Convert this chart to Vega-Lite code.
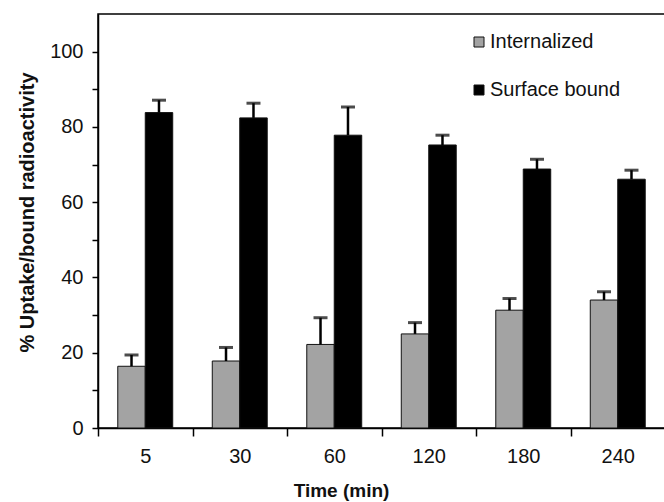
{
  "$schema": "https://vega.github.io/schema/vega-lite/v6.json",
  "autosize": "none",
  "width": 567,
  "height": 414,
  "padding": {"left": 98, "top": 14, "right": 0, "bottom": 74},
  "background": "white",
  "config": {
    "font": "Liberation Sans",
    "view": {"stroke": "#000", "strokeWidth": 1.5},
    "axis": {"grid": false, "domainColor": "#000", "domainWidth": 1.5, "tickColor": "#000", "tickWidth": 1.5, "labelColor": "#111", "titleColor": "#111", "labelFont": "Liberation Sans", "titleFont": "Liberation Sans"}
  },
  "data": {
    "values": [
      {"time": "5", "series": "Internalized", "value": 16.4, "upper": 19.4},
      {"time": "5", "series": "Surface bound", "value": 83.8, "upper": 87.1},
      {"time": "30", "series": "Internalized", "value": 17.8, "upper": 21.4},
      {"time": "30", "series": "Surface bound", "value": 82.4, "upper": 86.3},
      {"time": "60", "series": "Internalized", "value": 22.2, "upper": 29.3},
      {"time": "60", "series": "Surface bound", "value": 77.8, "upper": 85.3},
      {"time": "120", "series": "Internalized", "value": 25.0, "upper": 28.0},
      {"time": "120", "series": "Surface bound", "value": 75.2, "upper": 77.8},
      {"time": "180", "series": "Internalized", "value": 31.3, "upper": 34.4},
      {"time": "180", "series": "Surface bound", "value": 68.8, "upper": 71.4},
      {"time": "240", "series": "Internalized", "value": 34.0, "upper": 36.2},
      {"time": "240", "series": "Surface bound", "value": 66.1, "upper": 68.5}
    ]
  },
  "encoding": {
    "x": {
      "field": "time", "type": "nominal", "sort": ["5", "30", "60", "120", "180", "240"],
      "scale": {"paddingInner": 0, "paddingOuter": 0},
      "axis": {"title": "Time (min)", "labelAngle": 0, "labelFontSize": 20, "labelPadding": 10, "tickSize": 8, "tickBand": "extent", "titleFontSize": 19, "titleFontWeight": "bold", "titleX": 243, "titlePadding": 15}
    },
    "xOffset": {"field": "series", "type": "nominal", "sort": ["Internalized", "Surface bound"], "scale": {"paddingInner": 0, "paddingOuter": 0.72}}
  },
  "layer": [
    {
      "mark": {"type": "bar", "stroke": "#111", "strokeWidth": 1},
      "encoding": {
        "y": {
          "field": "value", "type": "quantitative",
          "scale": {"domain": [0, 110], "nice": false},
          "axis": {"title": "% Uptake/bound radioactivity", "values": [0, 10, 20, 30, 40, 50, 60, 70, 80, 90, 100], "labelExpr": "datum.value % 20 == 0 ? datum.label : ''", "labelFontSize": 20, "labelPadding": 9, "tickSize": 6, "titleFontSize": 20, "titleFontWeight": "bold", "titleX": -71, "titleY": 198, "titleAlign": "center", "titleBaseline": "middle", "titleAngle": 270}
        },
        "color": {
          "field": "series", "type": "nominal",
          "scale": {"domain": ["Internalized", "Surface bound"], "range": ["#a3a3a3", "#000000"]},
          "legend": {"title": null, "orient": "none", "legendX": 371, "legendY": 18, "symbolType": "square", "symbolSize": 100, "symbolStrokeColor": "#111", "symbolStrokeWidth": 1, "symbolOpacity": 1, "labelFontSize": 20, "labelColor": "#111", "labelOffset": 1, "rowPadding": 28, "padding": 0}
        }
      }
    },
    {
      "mark": {"type": "rule", "color": "#000", "strokeWidth": 2.5},
      "encoding": {"y": {"field": "value", "type": "quantitative"}, "y2": {"field": "upper"}}
    },
    {
      "mark": {"type": "tick", "color": "#000", "size": 14, "thickness": 3},
      "encoding": {"y": {"field": "upper", "type": "quantitative"}}
    }
  ]
}
